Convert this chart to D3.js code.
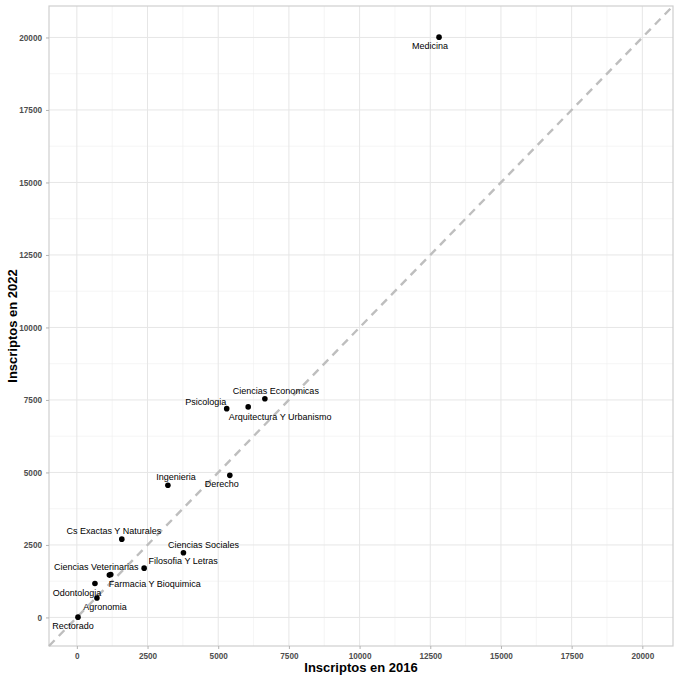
<!DOCTYPE html>
<html>
<head>
<meta charset="utf-8">
<script src="https://cdn.jsdelivr.net/npm/d3@7"></script>
<style>
  body { margin: 0; background: #fff; }
  svg { display: block; font-family: "Liberation Sans", Arial, sans-serif; }
</style>
</head>
<body>
<svg id="chart" width="680" height="680"></svg>
<script>
// ---- data ----
const facultades = ["Medicina", "Ciencias Economicas", "Arquitectura Y Urbanismo", "Psicologia",
  "Derecho", "Ingenieria", "Cs Exactas Y Naturales", "Ciencias Sociales", "Filosofia Y Letras",
  "Ciencias Veterinarias", "Farmacia Y Bioquimica", "Odontologia", "Agronomia", "Rectorado"];
const inscriptos2016 = [12810, 6650, 6060, 5300, 5410, 3220, 1590, 3770, 2380, 1150, 1200, 640, 710, 40];
const inscriptos2022 = [20010, 7540, 7260, 7200, 4900, 4560, 2700, 2230, 1700, 1460, 1480, 1170, 670, 10];
const tickValues = [0, 2500, 5000, 7500, 10000, 12500, 15000, 17500, 20000];
const minorTickValues = [1250, 3750, 6250, 8750, 11250, 13750, 16250, 18750];
const axisDomain = [-985, 21085];

// ---- layout (label offsets in px, relative to the point) ----
const labelOffsets = [[-9, 9], [11, -8], [32, 10], [-21, -7], [-8, 9], [8, -8], [-8, -8], [20, -8],
  [39, -7], [-13, -8], [44, 9], [-18, 9], [8, 9], [-5, 9]];

const svg = d3.select("#chart");
const P = { left: 49, right: 673, top: 6, bottom: 646 };

const x = d3.scaleLinear().domain(axisDomain).range([P.left, P.right]);
const y = d3.scaleLinear().domain(axisDomain).range([P.bottom, P.top]);

// grid
const grid = svg.append("g");
grid.selectAll("line.vminor").data(minorTickValues).join("line")
  .attr("x1", d => x(d)).attr("x2", d => x(d)).attr("y1", P.top).attr("y2", P.bottom)
  .attr("stroke", "#efefef").attr("stroke-width", 0.6);
grid.selectAll("line.hminor").data(minorTickValues).join("line")
  .attr("y1", d => y(d)).attr("y2", d => y(d)).attr("x1", P.left).attr("x2", P.right)
  .attr("stroke", "#efefef").attr("stroke-width", 0.6);
grid.selectAll("line.vmajor").data(tickValues).join("line")
  .attr("x1", d => x(d)).attr("x2", d => x(d)).attr("y1", P.top).attr("y2", P.bottom)
  .attr("stroke", "#e6e6e6").attr("stroke-width", 1);
grid.selectAll("line.hmajor").data(tickValues).join("line")
  .attr("y1", d => y(d)).attr("y2", d => y(d)).attr("x1", P.left).attr("x2", P.right)
  .attr("stroke", "#e6e6e6").attr("stroke-width", 1);

// panel border
svg.append("rect").attr("x", P.left).attr("y", P.top)
  .attr("width", P.right - P.left).attr("height", P.bottom - P.top)
  .attr("fill", "none").attr("stroke", "#cfcfcf").attr("stroke-width", 1.2);

// diagonal y = x
svg.append("line")
  .attr("x1", x(axisDomain[0])).attr("y1", y(axisDomain[0]))
  .attr("x2", x(axisDomain[1])).attr("y2", y(axisDomain[1]))
  .attr("stroke", "#bebebe").attr("stroke-width", 2.4)
  .attr("stroke-dasharray", "8,6");

// axes
const xAxis = d3.axisBottom(x).tickValues(tickValues).tickSize(3).tickPadding(4).tickFormat(d3.format("d"));
const yAxis = d3.axisLeft(y).tickValues(tickValues).tickSize(3).tickPadding(4).tickFormat(d3.format("d"));
const gx = svg.append("g").attr("transform", `translate(0,${P.bottom})`).call(xAxis);
const gy = svg.append("g").attr("transform", `translate(${P.left},0)`).call(yAxis);
[gx, gy].forEach(g => {
  g.select(".domain").remove();
  g.selectAll(".tick line").attr("stroke", "#b3b3b3");
  g.selectAll(".tick text").attr("fill", "#4d4d4d").attr("font-size", "8.2px")
    .attr("font-weight", "bold").attr("font-family", "Liberation Sans, Arial, sans-serif");
});

// points
const data = facultades.map((f, i) => ({ name: f, a: inscriptos2016[i], b: inscriptos2022[i], off: labelOffsets[i] }));
svg.append("g").selectAll("circle").data(data).join("circle")
  .attr("cx", d => x(d.a)).attr("cy", d => y(d.b)).attr("r", 2.8).attr("fill", "#000");

// labels
svg.append("g").selectAll("text").data(data).join("text")
  .attr("x", d => x(d.a) + d.off[0]).attr("y", d => y(d.b) + d.off[1])
  .attr("text-anchor", "middle").attr("dominant-baseline", "central")
  .attr("font-size", "9px").attr("fill", "#000")
  .text(d => d.name);

// axis titles
svg.append("text").attr("x", (P.left + P.right) / 2).attr("y", 672)
  .attr("text-anchor", "middle").attr("font-size", "13px").attr("font-weight", "bold")
  .text("Inscriptos en 2016");
svg.append("text").attr("transform", `translate(17,${(P.top + P.bottom) / 2}) rotate(-90)`)
  .attr("text-anchor", "middle").attr("font-size", "13px").attr("font-weight", "bold")
  .text("Inscriptos en 2022");
</script>
</body>
</html>
